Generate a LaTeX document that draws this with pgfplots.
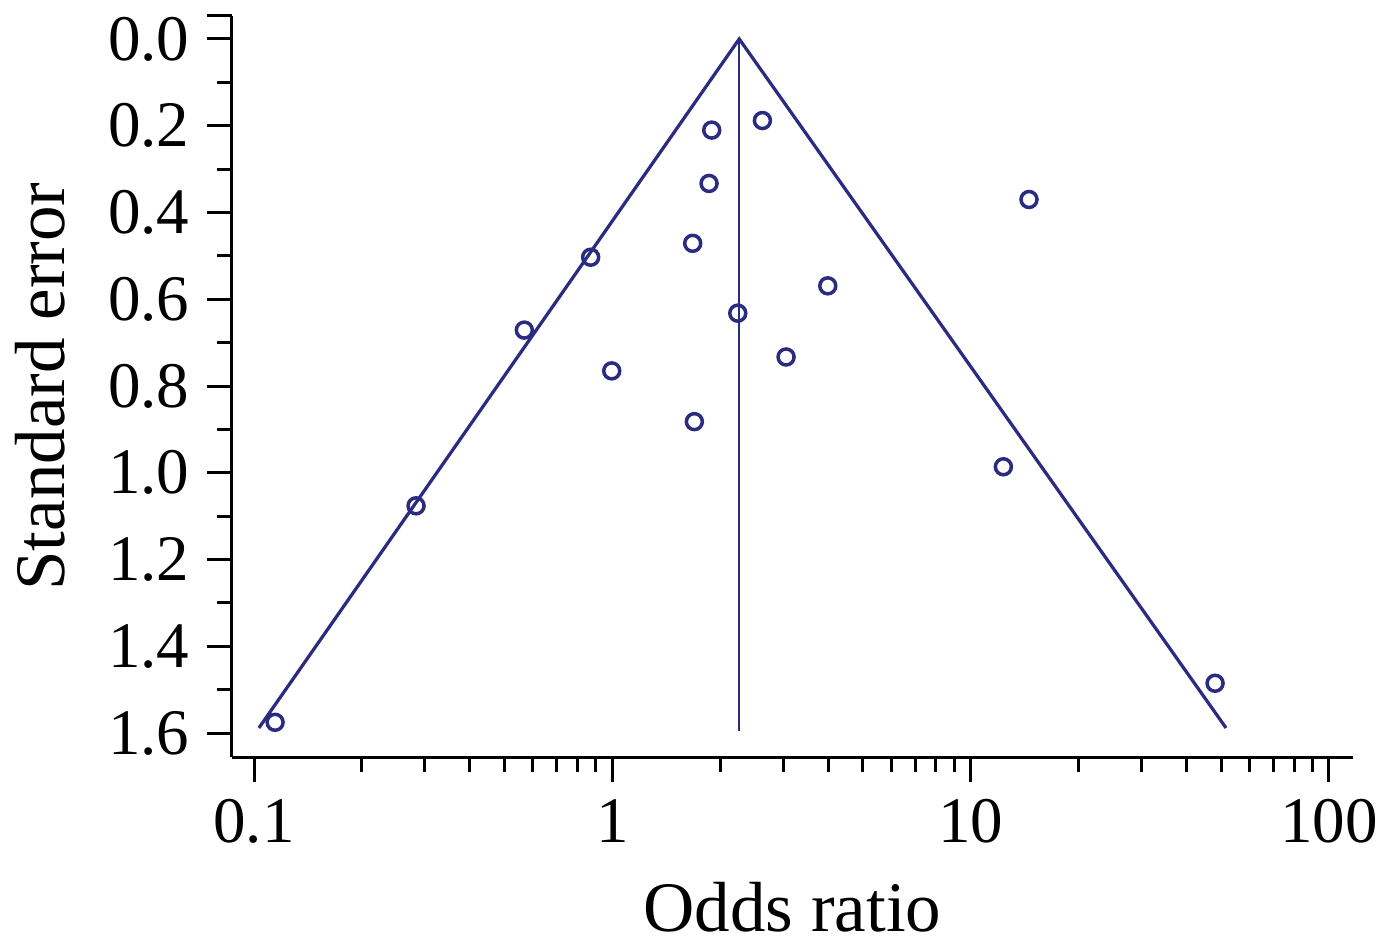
\documentclass[border=0pt]{standalone}
\usepackage{fontspec}
\setmainfont{Liberation Serif}
\usepackage{pgfplots}
\pgfplotsset{compat=1.18}
\definecolor{navy}{RGB}{43,43,128}

\begin{document}
\begin{tikzpicture}
\begin{axis}[
  name=ax,
  scale only axis, width=224.2pt, height=148.2pt,
  xmode=log, xmin=0.0868, xmax=116.7,
  ymin=-0.053, ymax=1.655, y dir=reverse,
  axis lines=left, axis line style={-, line width=0.6pt},
  tick align=outside, major tick length=5pt, minor tick length=3pt,
  tick style={black, line width=0.6pt},
  xtick={0.1,1,10,100}, xticklabels={0.1,1,10,100},
  minor xtick={0.2,0.3,0.4,0.5,0.6,0.7,0.8,0.9,2,3,4,5,6,7,8,9,20,30,40,50,60,70,80,90},
  ytick={0,0.2,...,1.6}, minor ytick={0.1,0.3,...,1.5},
  extra y ticks={-0.053}, extra y tick labels={},
  yticklabel style={/pgf/number format/.cd, fixed, fixed zerofill, precision=1},
  /pgf/number format/assume math mode=true,
  tick label style={font=\fontsize{13}{15}\selectfont},
  label style={font=\fontsize{14.2}{17}\selectfont},
  xlabel={Odds ratio}, ylabel={Standard error},
  xlabel style={at={(axis description cs:0.5,-0.235)}, anchor=base},
  ylabel style={at={(axis description cs:-0.149,0.5)}, anchor=base},
  clip=false,
]
% pseudo 95% confidence limits
\addplot[navy, line width=0.65pt] coordinates {(0.1032,1.588) (2.26,0) (51.6,1.588)};
% pooled estimate
\addplot[navy, line width=0.55pt] coordinates {(2.257,0) (2.257,1.595)};
% studies
\addplot[only marks, mark=o, mark size=1.6pt, navy, mark options={line width=0.7pt}] coordinates {
(1.894,0.210)
(2.623,0.188)
(1.862,0.333)
(14.55,0.370)
(1.676,0.471)
(0.870,0.503)
(3.993,0.569)
(2.239,0.632)
(0.568,0.671)
(3.054,0.733)
(0.996,0.765)
(1.694,0.882)
(12.34,0.986)
(0.2833,1.076)
(48.1,1.485)
(0.1145,1.575)
};
\end{axis}
\pgfresetboundingbox
\path[use as bounding box] ([shift={(-46.4pt,-37.2pt)}]ax.south west) rectangle ([shift={(6.2pt,3.2pt)}]ax.north east);
\end{tikzpicture}
\end{document}
